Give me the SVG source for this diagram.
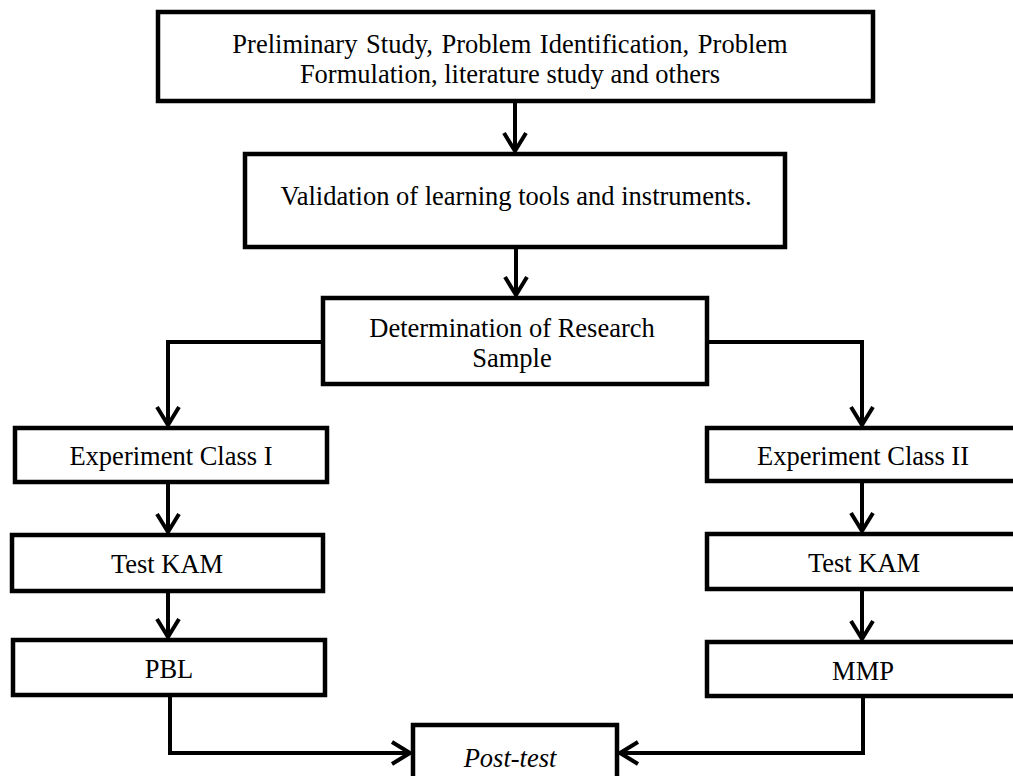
<svg xmlns="http://www.w3.org/2000/svg" width="1013" height="776" viewBox="0 0 1013 776">
<defs>
<style>
.box{fill:#fff;stroke:#000;stroke-width:4.5}
.t{font-family:"Liberation Serif","Times New Roman",serif;font-size:26.5px;fill:#000;text-anchor:middle}
.c{fill:none;stroke:#000;stroke-width:4;stroke-linejoin:miter}
</style>
<marker id="ah" markerUnits="userSpaceOnUse" markerWidth="30" markerHeight="30" orient="auto" refX="0" refY="0" overflow="visible">
<path d="M-18,-11 L0,0 L-18,11" fill="none" stroke="#000" stroke-width="4"/>
</marker>
</defs>
<rect width="1013" height="776" fill="#fff"/>
<g id="connectors">
<path class="c" d="M515,101 V151" marker-end="url(#ah)"/>
<path class="c" d="M516,247 V295" marker-end="url(#ah)"/>
<path class="c" d="M323,342 H168 V425" marker-end="url(#ah)"/>
<path class="c" d="M707,342 H862 V425" marker-end="url(#ah)"/>
<path class="c" d="M168,482 V532" marker-end="url(#ah)"/>
<path class="c" d="M168,591 V637" marker-end="url(#ah)"/>
<path class="c" d="M862,482 V531" marker-end="url(#ah)"/>
<path class="c" d="M862,589 V639" marker-end="url(#ah)"/>
<path class="c" d="M170,695 V753 H410" marker-end="url(#ah)"/>
<path class="c" d="M863,696 V753 H620" marker-end="url(#ah)"/>
</g>
<g id="n-prelim">
<rect class="box" x="158" y="12" width="715" height="89"/>
<text class="t" x="510" y="53" word-spacing="2">Preliminary Study, Problem Identification, Problem</text>
<text class="t" x="510" y="83">Formulation, literature study and others</text>
</g>
<g id="n-validation">
<rect class="box" x="245" y="154" width="540" height="93"/>
<text class="t" x="516" y="205">Validation of learning tools and instruments.</text>
</g>
<g id="n-determination">
<rect class="box" x="323" y="298" width="384" height="86"/>
<text class="t" x="512" y="337">Determination of Research</text>
<text class="t" x="512" y="367">Sample</text>
</g>
<g id="n-exp1">
<rect class="box" x="15" y="428" width="312" height="54"/>
<text class="t" x="171" y="465">Experiment Class I</text>
</g>
<g id="n-kam1">
<rect class="box" x="12" y="535" width="311" height="56"/>
<text class="t" x="167" y="573">Test KAM</text>
</g>
<g id="n-pbl">
<rect class="box" x="13" y="640" width="312" height="55"/>
<text class="t" x="169" y="678">PBL</text>
</g>
<g id="n-exp2">
<rect class="box" x="707" y="428" width="320" height="53"/>
<text class="t" x="863" y="465">Experiment Class II</text>
</g>
<g id="n-kam2">
<rect class="box" x="707" y="534" width="320" height="55"/>
<text class="t" x="864" y="572">Test KAM</text>
</g>
<g id="n-mmp">
<rect class="box" x="707" y="642" width="320" height="54"/>
<text class="t" x="863" y="680">MMP</text>
</g>
<g id="n-posttest">
<rect class="box" x="413" y="725" width="204" height="70"/>
<text class="t" x="510" y="767" font-style="italic" font-size="30">Post-test</text>
</g>
</svg>
